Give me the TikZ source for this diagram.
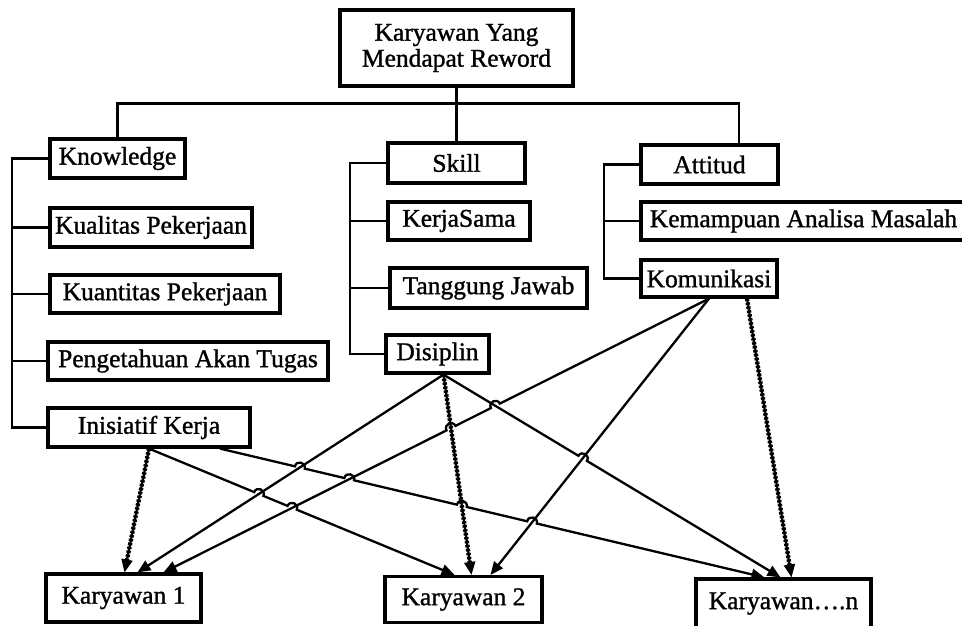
\documentclass[tikz,border=0pt]{standalone}
\usepackage{fontspec}
\setmainfont{Liberation Serif}
\newfontfamily\boxfont{Liberation Serif}[FakeBold=1.2]
\usetikzlibrary{arrows.meta,calc,intersections}
\begin{document}
\begin{tikzpicture}[x=1pt,y=-1pt,
  box/.style={draw, line width=3.2pt, inner sep=0pt, font=\boxfont\fontsize{25.5}{26}\selectfont},
  tree/.style={line width=2.8pt},
  link/.style={line width=2.3pt, -{Triangle[length=13pt,width=11pt]}},
  heavy/.style={line width=2.2pt, -{Triangle[length=13pt,width=11pt]},
     preaction={draw, -, line width=4.4pt, dash pattern=on 2.4pt off 1.6pt, shorten >=10pt}},
  hopu/.style={bend left=90, looseness=1.7},
  hopd/.style={bend right=90, looseness=1.7}]
\useasboundingbox (0,0) rectangle (962,625);
% boxes
\node[box, minimum width=233pt, minimum height=76pt, align=center] (top) at (456.5,48) {Karyawan Yang\\Mendapat Reword};
\node[box, minimum width=135pt, minimum height=39pt] (know) at (117.5,158.5) {Knowledge};
\node[box, minimum width=202pt, minimum height=39pt] (kual) at (151,227.5) {Kualitas Pekerjaan};
\node[box, minimum width=230pt, minimum height=38pt] (kuan) at (165,294) {Kuantitas Pekerjaan};
\node[box, minimum width=280pt, minimum height=38pt] (peng) at (188,361) {Pengetahuan Akan Tugas};
\node[box, minimum width=202pt, minimum height=39pt] (inis) at (149,427.5) {Inisiatif Kerja};
\node[box, minimum width=137pt, minimum height=40pt] (skill) at (456.5,163) {Skill};
\node[box, minimum width=142pt, minimum height=38pt] (kerja) at (459,221) {KerjaSama};
\node[box, minimum width=197pt, minimum height=40pt] (tang) at (488.5,288) {Tanggung Jawab};
\node[box, minimum width=103pt, minimum height=38pt] (disc) at (437.5,354) {Disiplin};
\node[box, minimum width=137pt, minimum height=39pt] (att) at (709.5,164.5) {Attitud};
\node[box, minimum width=325pt, minimum height=38pt] (kem) at (803.5,221) {Kemampuan Analisa Masalah};
\node[box, minimum width=136pt, minimum height=37pt] (kom) at (709,278.5) {Komunikasi};
\node[box, minimum width=155pt, minimum height=48pt] (k1) at (123.5,598) {Karyawan 1};
\node[box, minimum width=157pt, minimum height=46pt] (k2) at (463.5,599.5) {Karyawan 2};
\node[box, minimum width=175pt, minimum height=49pt] (kn) at (783.5,603.5) {Karyawan\dots.n};
% tree
\draw[tree] (top.south) -- (skill.north);
\draw[tree] (know.north) -- ++(0,-34) -| ([xshift=29.5pt]att.north);
\coordinate (kb) at (12,0);
\coordinate (sb) at (350,0);
\coordinate (ab) at (604,0);
\draw[tree] (know.west) -- (know.west -| kb) |- (inis.west);
\draw[tree] (kual.west) -- (kual.west -| kb);
\draw[tree] (kuan.west) -- (kuan.west -| kb);
\draw[tree] (peng.west) -- (peng.west -| kb);
\draw[tree] (skill.west) -- (skill.west -| sb) |- (disc.west);
\draw[tree] (kerja.west) -- (kerja.west -| sb);
\draw[tree] (tang.west) -- (tang.west -| sb);
\draw[tree] (att.west) -- (att.west -| ab) |- (kom.west);
\draw[tree] (kem.west) -- (kem.west -| ab);
% link end points
\coordinate (s1) at (inis.south);
\coordinate (s3) at ([xshift=71pt]inis.south);
\coordinate (sd) at ([xshift=6pt]disc.south);
\coordinate (sk) at (kom.south);
\coordinate (sk9) at ([xshift=38pt]kom.south);
\coordinate (e1) at ([xshift=1pt]k1.north);
\coordinate (e2) at ([xshift=-9pt]k2.north);
\coordinate (e3) at ([xshift=-19pt]kn.north);
\coordinate (e4) at ([xshift=14pt]k1.north);
\coordinate (e5) at ([xshift=8pt]k2.north);
\coordinate (e6) at ([xshift=-3pt]kn.north);
\coordinate (e7) at ([xshift=40pt]k1.north);
\coordinate (e8) at ([xshift=27pt]k2.north);
\coordinate (e9) at ([xshift=8pt]kn.north);
% invisible paths for crossings
\path[name path=L2] (s1) -- (e2);
\path[name path=L3] (s3) -- (e3);
\path[name path=L4] (sd) -- (e4);
\path[name path=L5] (sd) -- (e5);
\path[name path=L6] (sd) -- (e6);
\path[name path=L7] (sk) -- (e7);
\path[name path=L8] (sk) -- (e8);
\path[name intersections={of=L2 and L4, by=x24}];
\path[name intersections={of=L2 and L7, by=x27}];
\path[name intersections={of=L3 and L4, by=x34}];
\path[name intersections={of=L3 and L7, by=x37}];
\path[name intersections={of=L3 and L5, by=x35}];
\path[name intersections={of=L3 and L8, by=x38}];
\path[name intersections={of=L7 and L6, by=x76}];
\path[name intersections={of=L7 and L5, by=x75}];
\path[name intersections={of=L6 and L8, by=x68}];
% links
\draw[heavy] (s1) -- (e1);
\draw[heavy] (sd) -- (e5);
\draw[heavy] (sk9) -- (e9);
\draw[link] (sd) -- (e4);
\draw[link] (sk) -- (e8);
\draw[link] (sd) -- ($(x68)!5pt!(sd)$) to[hopu] ($(x68)!5pt!(e6)$) -- (e6);
\draw[link] (sk) -- ($(x76)!5pt!(sk)$) to[hopd] ($(x76)!5pt!(e7)$)
   -- ($(x75)!5pt!(sk)$) to[hopd] ($(x75)!5pt!(e7)$) -- (e7);
\draw[link] (s1) -- ($(x24)!5pt!(s1)$) to[hopu] ($(x24)!5pt!(e2)$)
   -- ($(x27)!5pt!(s1)$) to[hopu] ($(x27)!5pt!(e2)$) -- (e2);
\draw[link] (s3) -- ($(x34)!5pt!(s3)$) to[hopu] ($(x34)!5pt!(e3)$)
   -- ($(x37)!5pt!(s3)$) to[hopu] ($(x37)!5pt!(e3)$)
   -- ($(x35)!5pt!(s3)$) to[hopu] ($(x35)!5pt!(e3)$)
   -- ($(x38)!5pt!(s3)$) to[hopu] ($(x38)!5pt!(e3)$) -- (e3);
\end{tikzpicture}
\end{document}
